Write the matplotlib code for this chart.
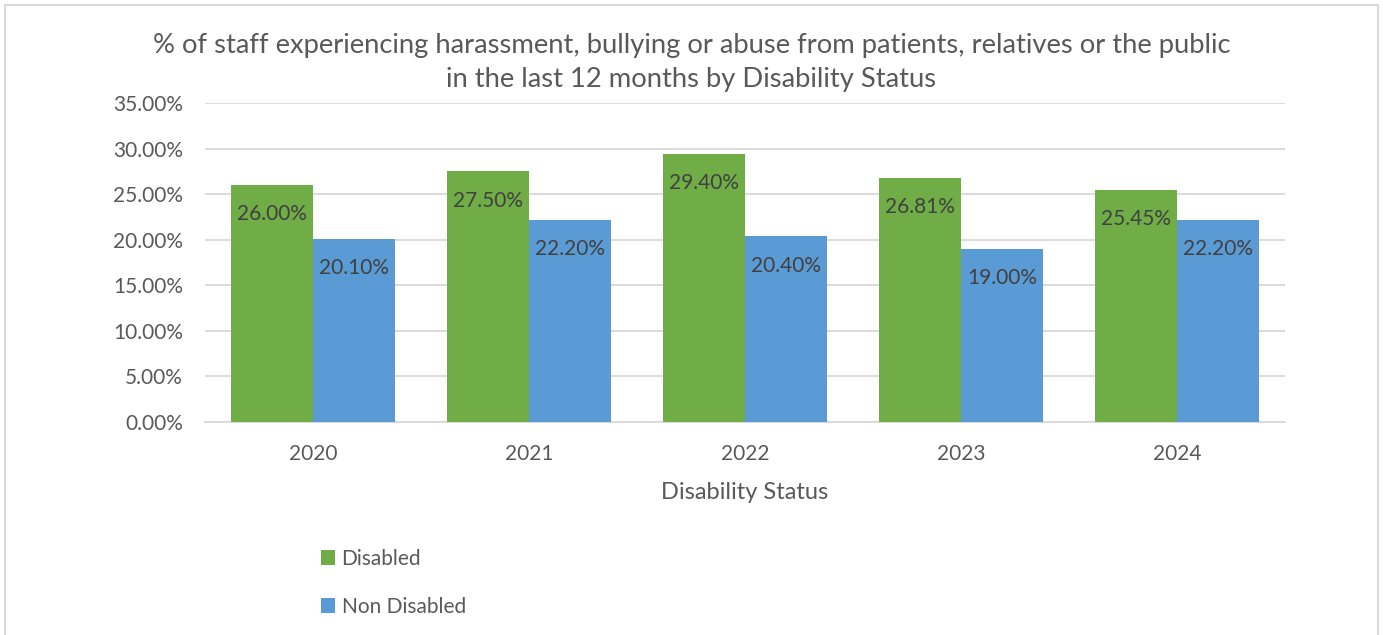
import matplotlib
matplotlib.use("Agg")
import matplotlib.pyplot as plt
from matplotlib.patches import Rectangle
import numpy as np

years = ["2020", "2021", "2022", "2023", "2024"]
disabled = [26.00, 27.50, 29.40, 26.81, 25.45]
non_disabled = [20.10, 22.20, 20.40, 19.00, 22.20]
series_names = ["Disabled", "Non Disabled"]
y_ticks = [0, 5, 10, 15, 20, 25, 30, 35]

GREEN = "#70AD47"
BLUE = "#5B9BD5"
TEXT = "#595959"
LABEL = "#404040"
GRID = "#D9D9D9"

plt.rcParams["font.family"] = ["Lato", "DejaVu Sans"]

fig = plt.figure(figsize=(13.83, 6.35), dpi=100)
ax = fig.add_axes([205 / 1383, 1 - 422 / 635, 1080 / 1383, 319 / 635])

# chart area border
fig.patches.append(Rectangle((5 / 1383, -0.05), 1373 / 1383, 1.05 - 5 / 635,
                             transform=fig.transFigure, fill=False,
                             edgecolor="#D9D9D9", linewidth=1.5))

x = np.arange(len(years))
w = 0.38
b1 = ax.bar(x - w / 2, disabled, w, color=GREEN, label=series_names[0], zorder=3)
b2 = ax.bar(x + w / 2, non_disabled, w, color=BLUE, label=series_names[1], zorder=3)

for bars, vals in ((b1, disabled), (b2, non_disabled)):
    for rect, v in zip(bars, vals):
        ax.annotate(f"{v:.2f}%", (rect.get_x() + rect.get_width() / 2, v),
                    xytext=(0, -14), textcoords="offset points",
                    ha="center", va="top", fontsize=15, color=LABEL, zorder=4)

ax.set_xlim(-0.5, len(years) - 0.5)
ax.set_ylim(0, 35)
ax.set_yticks(y_ticks)
ax.set_yticklabels([f"{t:.2f}%" for t in y_ticks])
ax.set_xticks(x)
ax.set_xticklabels(years)
ax.tick_params(axis="both", length=0, labelsize=15, colors=TEXT)
ax.tick_params(axis="y", pad=16)
ax.tick_params(axis="x", pad=16)
ax.grid(axis="y", color=GRID, linewidth=1.3, zorder=0)
for s in ("top", "right", "left"):
    ax.spines[s].set_visible(False)
ax.spines["bottom"].set_color(GRID)
ax.spines["bottom"].set_linewidth(1.3)

ax.set_xlabel("Disability Status", fontsize=17, color=TEXT, labelpad=13)

fig.text(0.5, 1 - 46 / 635,
         "% of staff experiencing harassment, bullying or abuse from patients, relatives or the public",
         ha="center", va="center", fontsize=19.7, color=TEXT)
fig.text(0.5, 1 - 80 / 635, "in the last 12 months by Disability Status",
         ha="center", va="center", fontsize=19.7, color=TEXT)

leg = fig.legend(handles=[b1, b2], labels=series_names, loc="upper left",
                 bbox_to_anchor=(302 / 1383, 1 - 530 / 635), frameon=False,
                 fontsize=15, labelcolor=TEXT, handlelength=0.7, handleheight=0.7,
                 handletextpad=0.3, labelspacing=1.35)

fig.savefig("out.png", dpi=100)
